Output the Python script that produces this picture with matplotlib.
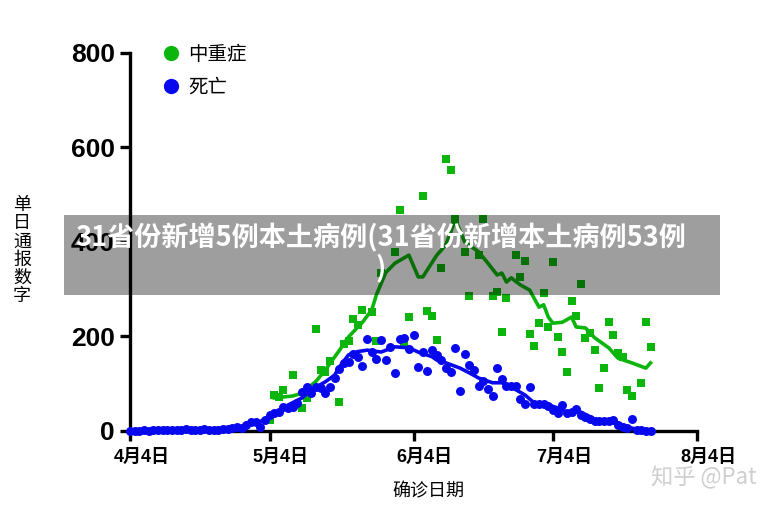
import matplotlib
matplotlib.use("Agg")
import matplotlib.pyplot as plt
import matplotlib.transforms as mtransforms
from matplotlib.lines import Line2D
from matplotlib.patches import Rectangle

plt.rcParams["font.family"] = ["Liberation Sans", "Noto Sans CJK SC", "DejaVu Sans"]

# 天数，从4月4日起算
tick_days = [0, 30, 61, 91, 122]
tick_labels = ["4月4日", "5月4日", "6月4日", "7月4日", "8月4日"]

# 死亡 每日散点
death_days = list(range(0, 113))
death_vals = [1, 1, 1, 2, 1, 2, 2, 2, 3, 2, 3, 2, 4, 3, 3, 2, 4, 3, 2, 3,
              5, 5, 7, 8, 6, 12, 19, 20, 8, 23, 34, 38, 40, 51, 49, 51, 59, 82, 93, 80,
              93, 91, 80, 93, 112, 131, 144, 146, 163, 157, 138, 195, 167, 152, 193, 150, 178, 123, 195, 197,
              174, 203, 135, 167, 127, 171, 161, 150, 133, 125, 176, 85, 163, 140, 129, 95, 106, 89, 74, 133,
              110, 95, 95, 95, 68, 57, 93, 57, 57, 57, 53, 44, 38, 55, 38, 40, 46, 34, 30, 25,
              21, 21, 21, 21, 23, 13, 8, 6, 25, 2, 2, 1, 1]

# 死亡 平滑线
death_line_days = [0, 5, 10, 15, 20, 22, 25, 28, 30, 32, 34, 37, 39, 42, 44, 45, 47, 49, 51, 54,
                   57, 60, 62, 65, 66, 68, 71, 73, 75, 78, 80, 82, 85, 87, 90, 92, 94, 97, 100, 103,
                   105, 107, 110, 112]
death_line_vals = [1, 1, 2, 2, 3, 5, 12, 20, 30, 42, 55, 70, 87, 104, 118, 135, 161, 168, 171, 167,
                   178, 176, 167, 157, 150, 144, 133, 123, 112, 102, 102, 93, 76, 59, 55, 49, 40, 40, 25, 19,
                   17, 8, 2, 2]

# 中重症 散点
severe_days = [30, 31, 32, 33, 35, 37, 38, 39, 40, 41, 42, 43, 45, 46, 47, 48, 49, 50, 52, 53,
               54, 57, 58, 59, 60, 63, 64, 65, 66, 67, 68, 69, 70, 72, 73, 75, 76, 78, 79, 80,
               81, 83, 84, 85, 86, 87, 88, 89, 90, 91, 92, 93, 94, 95, 96, 97, 98, 99, 100, 101,
               102, 103, 104, 105, 106, 107, 108, 110, 111, 112]
severe_vals = [23, 76, 72, 87, 118, 49, 70, 80, 216, 129, 125, 148, 61, 184, 190, 237, 224, 256, 252, 190,
               334, 379, 468, 188, 241, 497, 254, 243, 193, 345, 576, 552, 449, 379, 286, 372, 449, 286, 294, 209,
               281, 372, 326, 360, 205, 180, 228, 292, 220, 358, 199, 167, 125, 275, 243, 311, 197, 207, 171, 91,
               133, 231, 203, 165, 157, 87, 74, 102, 231, 178]

# 中重症 平滑线
severe_line_days = [31, 33, 35, 37, 40, 42, 45, 47, 50, 52, 53, 55, 57, 60, 62, 63, 66, 67, 68, 70,
                    72, 75, 77, 79, 80, 81, 82, 84, 86, 88, 89, 90, 91, 93, 95, 96, 98, 100, 103, 105,
                    108, 111, 112]
severe_line_vals = [70, 72, 74, 80, 105, 129, 170, 199, 230, 256, 288, 335, 355, 372, 326, 326, 372, 383, 395, 447,
                    400, 379, 355, 330, 334, 315, 324, 309, 298, 262, 267, 241, 228, 230, 241, 220, 218, 197, 176, 154,
                    144, 133, 144]

green = "#0cb50c"
blue = "#0808ee"

fig = plt.figure(figsize=(7.84, 5.11), dpi=100)
ax = fig.add_axes([0.166, 0.1566, 0.723, 0.740])

ax.scatter(severe_days, severe_vals, marker="s", s=32, color=green, linewidths=0, zorder=2, clip_on=False)
ax.plot(severe_line_days, severe_line_vals, color=green, lw=2.6, zorder=3)
ax.scatter(death_days, death_vals, marker="o", s=42, color=blue, linewidths=0, zorder=4, clip_on=False)
ax.plot(death_line_days, death_line_vals, color=blue, lw=2.6, zorder=5)

ax.set_xlim(0, 122)
ax.set_ylim(0, 800)
ax.set_yticks([0, 200, 400, 600, 800])
ax.set_xticks(tick_days)
ax.set_xticklabels(tick_labels)

for s in ["top", "right"]:
    ax.spines[s].set_visible(False)
for s in ["left", "bottom"]:
    ax.spines[s].set_linewidth(2.4)
    ax.spines[s].set_color("black")

ax.tick_params(axis="both", direction="out", length=7, width=2.4, colors="black")
ax.tick_params(axis="y", pad=4, labelsize=19)
ax.tick_params(axis="x", pad=6, labelsize=13)
for lab in ax.get_yticklabels():
    lab.set_fontweight("bold")
offset = mtransforms.ScaledTranslation(8 / 72, 0, fig.dpi_scale_trans)
for lab in ax.get_xticklabels():
    lab.set_fontweight("bold")
    lab.set_transform(lab.get_transform() + offset)

ax.set_xlabel("确诊日期", fontsize=13, family=["Noto Sans CJK SC"])
ax.xaxis.set_label_coords(0.526, -0.135)

fig.text(0.028, 0.51, "\n".join("单日通报数字"), ha="center", va="center",
         fontsize=13, family=["Noto Sans CJK SC"], linespacing=1.02)

handles = [Line2D([], [], marker="o", ls="", color=green, markersize=11, markeredgewidth=0),
           Line2D([], [], marker="o", ls="", color=blue, markersize=11, markeredgewidth=0)]
ax.legend(handles, ["中重症", "死亡"], loc="upper left", bbox_to_anchor=(0.02, 1.07),
          frameon=False, prop={"family": "Noto Sans CJK SC", "size": 14},
          handletextpad=0.3, labelspacing=0.62, handlelength=1.2)

# 顶部灰色横幅
fig.add_artist(Rectangle((0.0816, 0.4227), 0.8367, 0.1566, transform=fig.transFigure,
                         facecolor="black", alpha=0.38, edgecolor="none", zorder=10))
fig.text(0.485, 0.505, "31省份新增5例本土病例(31省份新增本土病例53例\n)", ha="center", va="center",
         color="white", fontsize=19.5, fontweight="bold", family=["Noto Sans CJK SC"],
         linespacing=1.05, zorder=11)

fig.text(0.83, 0.065, "知乎 @Pat", ha="left", va="center", color="#cfcfcf",
         fontsize=16, family=["Noto Sans CJK SC", "DejaVu Sans"], zorder=11)

fig.savefig("out.png", dpi=100)
